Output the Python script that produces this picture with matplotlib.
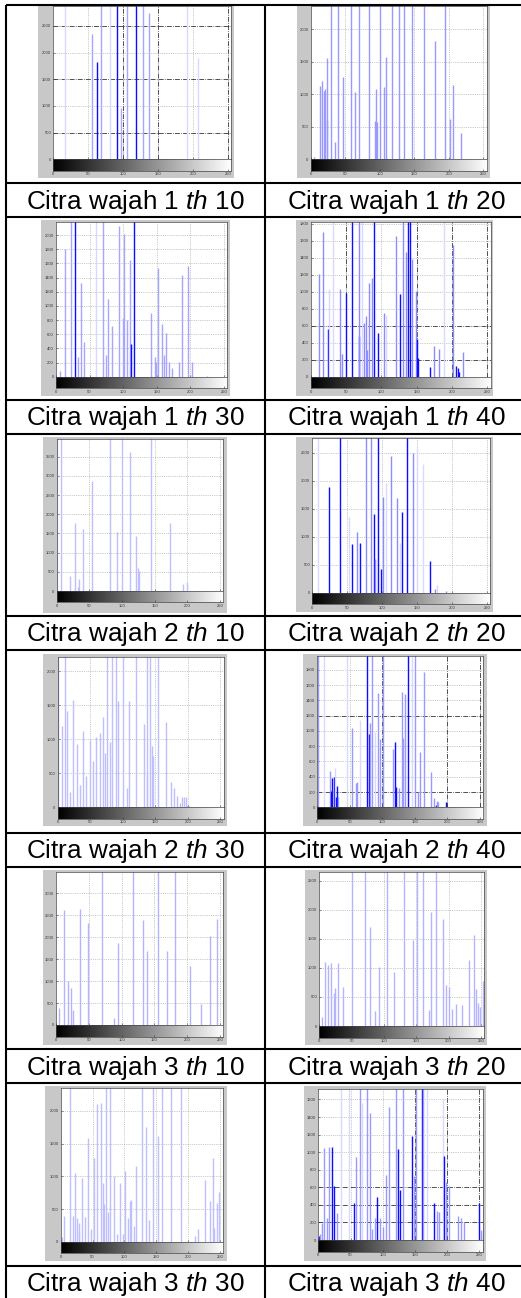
import numpy as np
import matplotlib
matplotlib.use("Agg")
import matplotlib.pyplot as plt
from matplotlib.patches import Rectangle

plt.rcParams['font.family'] = ['Liberation Sans', 'DejaVu Sans']
plt.rcParams['mathtext.fontset'] = 'custom'
plt.rcParams['mathtext.rm'] = 'Liberation Sans'
plt.rcParams['mathtext.it'] = 'Liberation Sans:italic'

W, H = 521, 1298

# ---------------- data (gray level, pixel count) ----------------
captions = ["Citra wajah 1 $\\mathit{th}$ 10", "Citra wajah 1 $\\mathit{th}$ 20",
            "Citra wajah 1 $\\mathit{th}$ 30", "Citra wajah 1 $\\mathit{th}$ 40",
            "Citra wajah 2 $\\mathit{th}$ 10", "Citra wajah 2 $\\mathit{th}$ 20",
            "Citra wajah 2 $\\mathit{th}$ 30", "Citra wajah 2 $\\mathit{th}$ 40",
            "Citra wajah 3 $\\mathit{th}$ 10", "Citra wajah 3 $\\mathit{th}$ 20",
            "Citra wajah 3 $\\mathit{th}$ 30", "Citra wajah 3 $\\mathit{th}$ 40"]

x_ticks = [0, 50, 100, 150, 200, 250]

w1_th10_levels = [17, 55, 62, 68, 81, 92, 97, 105, 118, 128, 137, 192, 207]
w1_th10_counts = [3000, 2340, 1825, 3000, 3000, 3000, 970, 3000, 3000, 3000, 2740, 3000, 1890]

w1_th20_levels = [5, 13, 16, 19, 21, 23, 24, 30, 35, 40, 47, 58, 64, 70, 85, 93, 94, 96, 101, 106,
                  109, 118, 128, 135, 147, 164, 180, 195, 202, 206, 218, 227, 230]
w1_th20_counts = [40, 1128, 1205, 1050, 1077, 605, 1564, 2500, 262, 2500, 1260, 2500, 1040, 2500, 2500,
                  595, 1077, 580, 2500, 1118, 1580, 2500, 2500, 2500, 2500, 2500, 1826, 2500, 615, 1143,
                  400, 10, 10]

w1_th30_levels = [6, 13, 22, 29, 33, 37, 41, 60, 70, 75, 78, 84, 94, 99, 101, 106, 110, 112, 116, 141,
                  147, 149, 152, 157, 161, 164, 168, 172, 183, 187, 197, 202, 225]
w1_th30_counts = [85, 1800, 2300, 2300, 282, 1327, 494, 2300, 2300, 306, 1092, 720, 2127, 828, 2014, 800,
                  1647, 461, 2300, 894, 282, 212, 1540, 740, 306, 620, 212, 127, 212, 1435, 1567, 207, 10]

w1_th40_levels = [12, 17, 24, 26, 32, 42, 44, 50, 59, 68, 69, 73, 76, 78, 80, 83, 87, 90, 95, 104, 106,
                  121, 127, 130, 135, 138, 141, 143, 149, 150, 152, 169, 174, 182, 189, 202, 206, 208,
                  210, 216]
w1_th40_counts = [1204, 1698, 560, 1027, 1900, 1031, 263, 988, 1900, 482, 1900, 1900, 635, 718, 314,
                  1098, 1165, 1900, 510, 745, 725, 1655, 973, 1900, 1470, 1900, 1900, 1380, 1012, 440,
                  215, 118, 360, 322, 1900, 1550, 125, 106, 59, 286]

w2_th10_levels = [0, 7, 21, 28, 32, 34, 40, 54, 81, 92, 100, 112, 121, 125, 126, 144, 174, 193, 199]
w2_th10_counts = [4200, 4200, 391, 1765, 113, 313, 1608, 2870, 4200, 1548, 4200, 3617, 1435, 591, 530,
                  4200, 1765, 183, 243]

w2_th20_levels = [8, 24, 39, 52, 57, 64, 69, 77, 84, 89, 90, 94, 98, 101, 105, 113, 121, 125, 128, 136,
                  144, 150, 159, 168, 176, 179, 191]
w2_th20_counts = [2900, 1880, 2900, 1345, 869, 1077, 893, 2900, 2900, 1399, 595, 2900, 423, 1714, 1964,
                  2446, 1684, 893, 1446, 2900, 2488, 2589, 2292, 571, 60, 137, 30]

w2_th30_levels = [1, 6, 11, 15, 19, 24, 30, 34, 39, 44, 49, 54, 59, 65, 70, 73, 76, 80, 83, 89, 93, 100,
                  106, 109, 120, 133, 137, 138, 142, 145, 146, 154, 166, 174, 179, 184, 188, 191, 194,
                  197, 199, 202, 211]
w2_th30_counts = [2400, 1196, 2400, 1417, 230, 1578, 926, 323, 1127, 460, 985, 681, 1029, 1093, 1328,
                  794, 2400, 956, 2400, 2400, 1564, 2400, 279, 1564, 2400, 1225, 2400, 495, 2400, 907,
                  755, 2400, 1250, 368, 289, 167, 69, 147, 147, 147, 39, 25, 5]

w2_th40_levels = [1, 10, 19, 21, 22, 25, 27, 29, 31, 32, 45, 54, 60, 61, 66, 76, 80, 81, 84, 89, 94, 96,
                  101, 116, 120, 121, 125, 130, 132, 135, 140, 145, 150, 155, 158, 164, 174, 180, 182,
                  184, 185, 198]
w2_th40_counts = [2100, 2100, 476, 218, 380, 402, 511, 140, 279, 131, 2100, 1035, 323, 336, 1144, 2100,
                  956, 1100, 2100, 991, 1493, 891, 2100, 760, 860, 262, 249, 1506, 912, 1485, 2100, 2100,
                  2100, 205, 720, 1777, 467, 118, 26, 87, 74, 65]

w3_th10_levels = [5, 12, 18, 23, 26, 36, 49, 70, 88, 95, 117, 133, 138, 156, 169, 182, 204, 221, 235, 246]
w3_th10_counts = [380, 2621, 1010, 851, 342, 2637, 2333, 3700, 152, 1877, 3700, 2394, 1695, 3700, 1687,
                  3700, 1353, 471, 2036, 2409]

w3_th20_levels = [4, 9, 14, 18, 23, 25, 29, 36, 51, 70, 79, 86, 92, 105, 116, 131, 145, 151, 161, 169,
                  172, 181, 192, 196, 200, 205, 212, 221, 231, 239, 242, 246, 249, 253]
w3_th20_counts = [161, 1109, 1052, 1092, 575, 650, 1080, 678, 2800, 2800, 1713, 264, 1023, 2800, 925,
                  2800, 1483, 2800, 2800, 276, 1960, 2800, 1839, 707, 667, 287, 374, 362, 1138, 1569,
                  632, 391, 333, 776]

w3_th30_levels = [2, 5, 14, 19, 23, 26, 28, 29, 33, 38, 43, 48, 53, 57, 63, 67, 68, 71, 75, 77, 84, 89,
                  93, 98, 101, 106, 108, 111, 115, 118, 127, 134, 138, 145, 153, 159, 173, 189, 211,
                  216, 227, 234, 239, 241, 245, 249]
w3_th30_counts = [77, 393, 2500, 393, 1056, 357, 163, 291, 980, 383, 1592, 189, 1286, 2107, 2117, 903,
                  571, 2500, 459, 2500, 1005, 117, 903, 117, 1087, 357, 622, 638, 240, 1163, 2500, 1750,
                  332, 2500, 1617, 2500, 2500, 2500, 92, 189, 944, 628, 1286, 204, 587, 765]

w3_th40_levels = [1, 3, 5, 9, 13, 17, 21, 25, 29, 36, 47, 55, 59, 64, 68, 75, 81, 84, 88, 91, 96, 101,
                  105, 110, 120, 124, 127, 131, 145, 149, 152, 161, 163, 168, 180, 185, 188, 193, 195,
                  198, 203, 217, 222, 226, 250, 253, 255]
w3_th40_counts = [49, 68, 197, 1051, 247, 1055, 1063, 615, 311, 1800, 1800, 417, 949, 1800, 1556, 1800,
                  1450, 121, 247, 493, 247, 152, 740, 1518, 1800, 1036, 569, 1800, 1184, 729, 1800,
                  1800, 1800, 1800, 417, 334, 323, 1600, 956, 664, 615, 277, 247, 201, 417, 114, 76]

series = [(w1_th10_levels, w1_th10_counts), (w1_th20_levels, w1_th20_counts),
          (w1_th30_levels, w1_th30_counts), (w1_th40_levels, w1_th40_counts),
          (w2_th10_levels, w2_th10_counts), (w2_th20_levels, w2_th20_counts),
          (w2_th30_levels, w2_th30_counts), (w2_th40_levels, w2_th40_counts),
          (w3_th10_levels, w3_th10_counts), (w3_th20_levels, w3_th20_counts),
          (w3_th30_levels, w3_th30_counts), (w3_th40_levels, w3_th40_counts)]

# ---------------- styling / layout (pixels) ----------------
# frame (l, t, r, b), axes (x0, x255, top, y0), y upper limit, y tick step
layout = [
    ((38, 6, 234, 178), (53.3, 231.2, 6, 159.3), 2874, 500),
    ((297, 6, 490, 178), (310.7, 486.8, 6, 159.3), 2358, 500),
    ((41, 220, 230, 396), (56, 227.4, 222.3, 376.7), 2180, 200),
    ((296, 220, 493, 396), (310.7, 490.9, 222.3, 376.7), 1816, 200),
    ((43, 437, 227, 613), (56.7, 223.3, 439, 591), 3965, 500),
    ((296, 437, 493, 612), (312.3, 490.2, 438.3, 592.7), 2757, 500),
    ((43, 654, 227, 826), (57.7, 223.6, 656.7, 807.3), 2215, 500),
    ((303, 654, 487, 826), (317.3, 483.3, 656, 807.3), 1982, 200),
    ((43, 870, 227, 1045), (56, 223.3, 871.7, 1025), 3495, 500),
    ((305, 870, 487, 1045), (319.3, 484.2, 871.7, 1026), 2660, 500),
    ((45, 1086, 227, 1261), (60.7, 223.2, 1088.3, 1241.7), 2347, 500),
    ((304, 1086, 486, 1261), (318.3, 482.6, 1089.3, 1240), 1716, 200),
]
base_strength = [0.35, 0.4, 0.35, 0.45, 0.25, 0.45, 0.25, 0.4, 0.3, 0.3, 0.25, 0.4]
dark_levels = [[62, 92, 118], [], [29, 112, 116], [24, 50, 59, 90, 141, 68, 95, 150, 152, 169, 206, 208, 210, 127, 138],
               [], [24, 39, 57, 69, 89, 94, 98, 128, 168, 136], [],
               [21, 22, 25, 29, 31, 76, 80, 120, 121, 140, 182, 198], [], [], [],
               [1, 21, 25, 55, 91, 124, 127, 145, 161, 180, 195, 250]]
faint_levels = [[17, 81, 192, 207], [], [60], [26, 32, 73, 106, 189], [0], [8, 52, 105, 125, 150, 159, 179],
                [], [10, 27, 45, 66, 89, 145], [], [], [], [36, 47, 68, 168, 193]]
# grid lines drawn darker (dash-dot) in the scanned figure
dark_vgrid = [[100, 150, 250], [], [], [50, 150, 200, 250], [], [], [], [100, 200, 250],
              [], [], [], [150, 200, 250]]
dark_hgrid = [[500, 1500, 2500], [], [], [200, 600], [], [], [], [200, 1200],
              [], [], [], [200, 400, 600]]

fig = plt.figure(figsize=(W / 100, H / 100), dpi=100)
fig.patch.set_facecolor('white')

bg = fig.add_axes([0, 0, 1, 1])
bg.set_xlim(0, W)
bg.set_ylim(H, 0)
bg.axis('off')
bg.set_zorder(0)


def frac(l, t, r, b):
    return [l / W, 1 - b / H, (r - l) / W, (b - t) / H]


gradient = np.linspace(0, 1, 256).reshape(1, -1)

for i, ((levels, counts), (frm, axb, ytop, ystep)) in enumerate(zip(series, layout)):
    fl, ft, fr, fb = frm
    bg.add_patch(Rectangle((fl, ft), fr - fl, fb - ft, facecolor='#c8c8c8', edgecolor='none'))
    x0, x255, top, y0 = axb
    ax = fig.add_axes(frac(x0, top, x255, y0))
    ax.set_zorder(2)
    ax.set_facecolor('white')
    ax.set_xlim(0, 255)
    ax.set_ylim(0, ytop)
    yt = np.arange(0, ytop + 1, ystep)
    # grid
    for gx in x_ticks[1:]:
        if gx in dark_vgrid[i]:
            ax.axvline(gx, color='#222222', linestyle='-.', linewidth=0.55, zorder=0.5)
        else:
            ax.axvline(gx, color='#999999', linestyle=':', linewidth=0.5, zorder=0.5)
    for gy in yt[1:]:
        if gy in dark_hgrid[i]:
            ax.axhline(gy, color='#222222', linestyle='-.', linewidth=0.55, zorder=0.5)
        else:
            ax.axhline(gy, color='#999999', linestyle=':', linewidth=0.5, zorder=0.5)
    cols = []
    for lv in levels:
        if lv in dark_levels[i]:
            s = 0.95
        elif lv in faint_levels[i]:
            s = 0.15
        else:
            s = base_strength[i]
        cols.append((1 - s, 1 - s, 1))
    ax.vlines(levels, 0, counts, colors=cols, linewidth=1.0, zorder=2)
    ax.set_xticks(x_ticks)
    ax.set_xticklabels([])
    ax.set_yticks(yt)
    ax.set_yticklabels([str(int(v)) for v in yt], fontsize=3, color='#333333')
    ax.tick_params(direction='in', length=1.5, width=0.4, pad=1.5, colors='#333333')
    for sp in ax.spines.values():
        sp.set_color('#444444')
        sp.set_linewidth(0.5)
    # gray-level bar
    cb = fig.add_axes(frac(x0, y0, x255, y0 + 11.5))
    cb.set_zorder(2)
    cb.imshow(gradient, aspect='auto', cmap='gray', extent=[0, 255, 0, 1])
    cb.set_xlim(0, 255)
    cb.set_yticks([])
    cb.set_xticks(x_ticks)
    cb.set_xticklabels([str(v) for v in x_ticks], fontsize=3, color='#333333')
    cb.tick_params(direction='in', length=1.5, width=0.4, pad=1.2, colors='#333333')
    for sp in cb.spines.values():
        sp.set_color('#444444')
        sp.set_linewidth(0.5)

# ---------------- table lines and captions ----------------
ov = fig.add_axes([0, 0, 1, 1])
ov.set_xlim(0, W)
ov.set_ylim(H, 0)
ov.axis('off')
ov.patch.set_alpha(0)
ov.set_zorder(5)

lw = 1.5
cap_tops = [183, 399.5, 616, 832.5, 1049, 1265.5]
cap_h = 34
ov.plot([6, W], [5, 5], color='black', lw=lw, solid_capstyle='butt')
for ct in cap_tops:
    ov.plot([6, W], [ct, ct], color='black', lw=lw, solid_capstyle='butt')
    ov.plot([6, W], [ct + cap_h, ct + cap_h], color='black', lw=lw, solid_capstyle='butt')
ov.plot([6, 6], [5, H], color='black', lw=lw, solid_capstyle='butt')
ov.plot([265, 265], [5, H], color='black', lw=lw, solid_capstyle='butt')

for r, ct in enumerate(cap_tops):
    for c, cx in enumerate([135.5, 396]):
        ov.text(cx, ct + 25.5, captions[2 * r + c], ha='center', va='baseline',
                fontsize=18.8, color='black')

fig.savefig('out.png', dpi=100, facecolor='white')
